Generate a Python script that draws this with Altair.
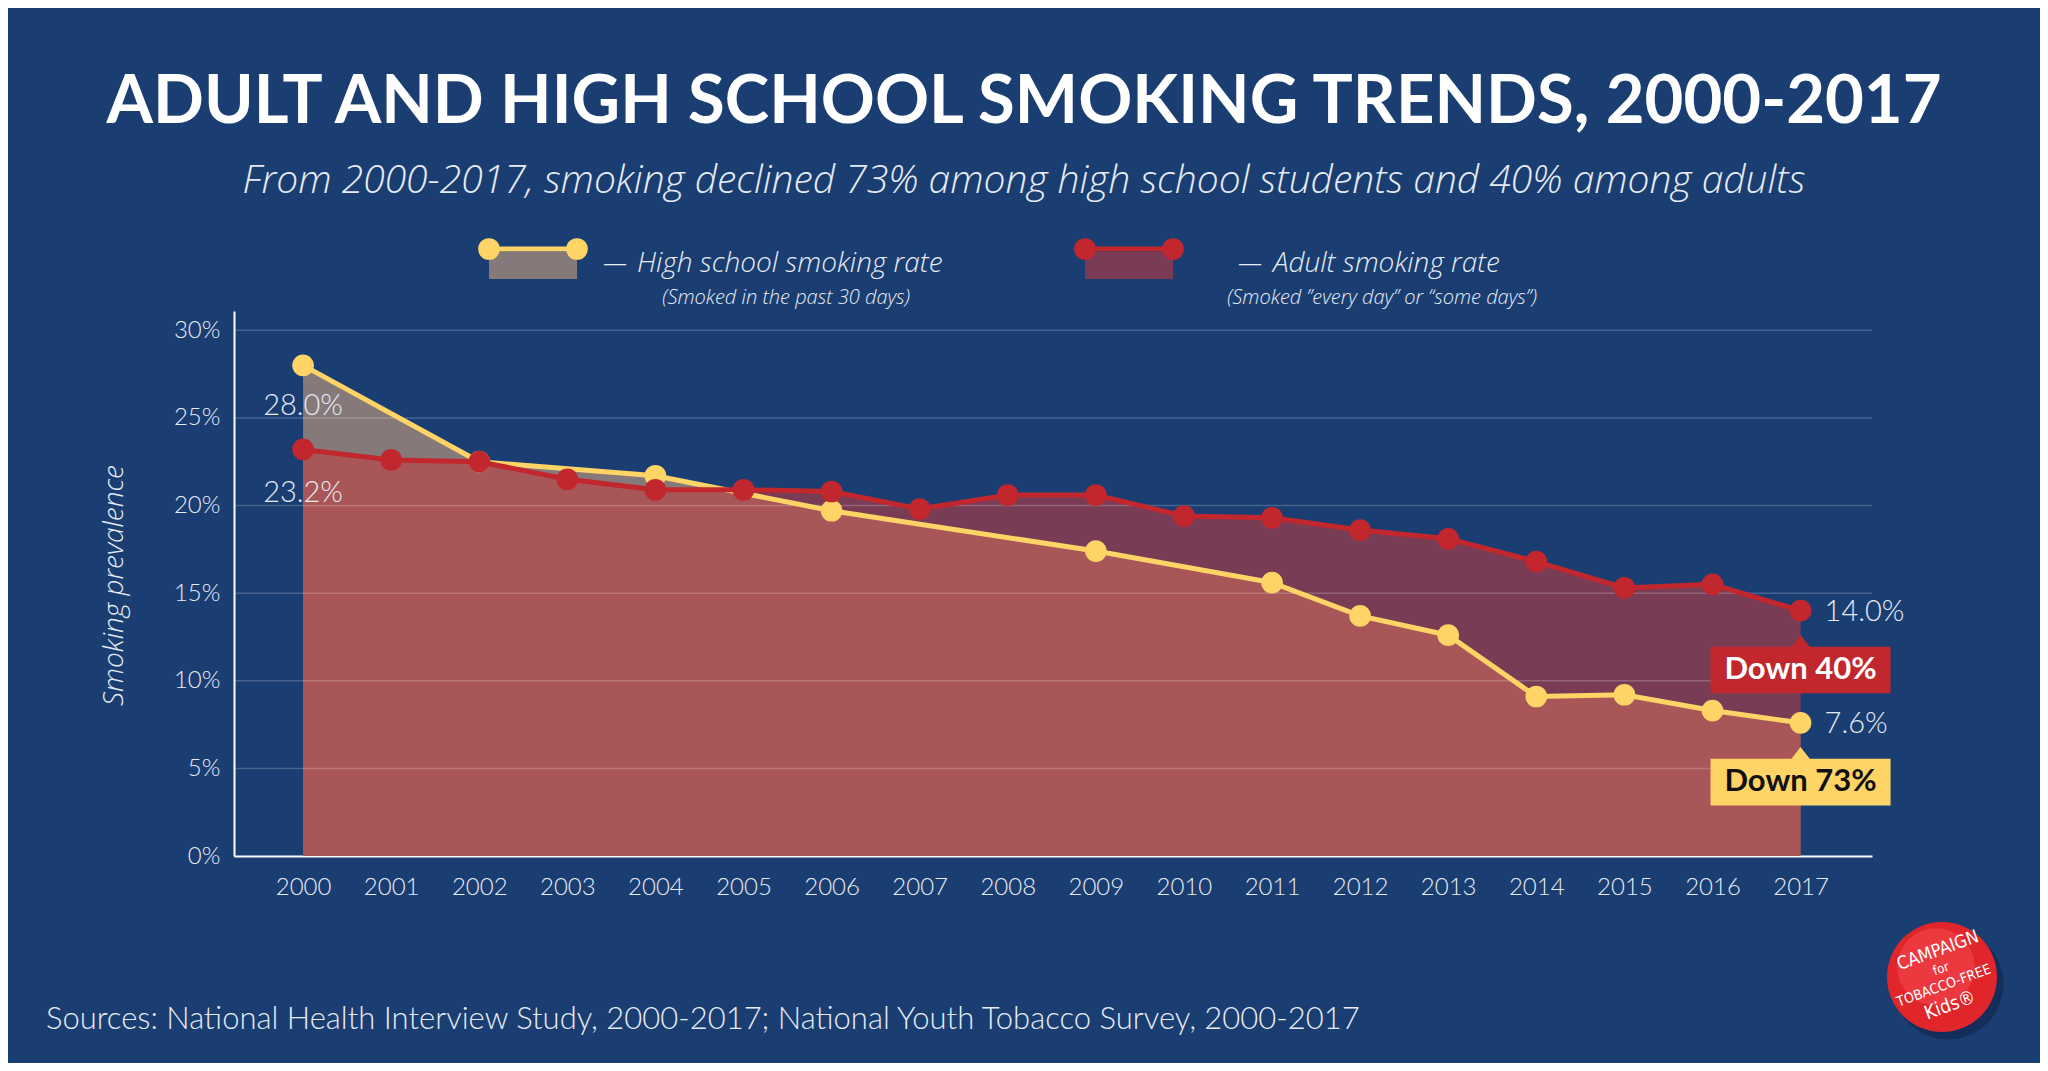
import altair as alt
import pandas as pd

# ---------------- data ----------------
years = [2000, 2001, 2002, 2003, 2004, 2005, 2006, 2007, 2008,
         2009, 2010, 2011, 2012, 2013, 2014, 2015, 2016, 2017]
adult_rate = [23.2, 22.6, 22.5, 21.5, 20.9, 20.9, 20.8, 19.8, 20.6,
              20.6, 19.4, 19.3, 18.6, 18.1, 16.8, 15.3, 15.5, 14.0]
hs_years = [2000, 2002, 2004, 2006, 2009, 2011, 2012, 2013, 2014, 2015, 2016, 2017]
hs_rate = [28.0, 22.5, 21.7, 19.7, 17.4, 15.6, 13.7, 12.6, 9.1, 9.2, 8.3, 7.6]
y_ticks = [0, 5, 10, 15, 20, 25, 30]
grid_vals = [5, 10, 15, 20, 25, 30]
down_labels = ["Down 40%", "Down 73%"]

title_text = "ADULT AND HIGH SCHOOL SMOKING TRENDS, 2000-2017"
subtitle_text = ("From 2000-2017, smoking declined 73% among high school "
                 "students and 40% among adults")
source_text = ("Sources: National Health Interview Study, 2000-2017; "
               "National Youth Tobacco Survey, 2000-2017")
legend_main = ["High school smoking rate", "Adult smoking rate"]
legend_sub = ["(Smoked in the past 30 days)",
              "(Smoked \u201devery day\u201d or \u201csome days\u201d)"]
logo_lines = ["CAMPAIGN", "for", "TOBACCO-FREE", "Kids\u00ae"]

# ---------------- styling ----------------
BG = "#1b3e72"
YELLOW = "#ffd466"
RED = "#c1272d"
HS_FILL = "#867979"
AD_FILL = "#c53a3e"
AD_LEGEND = "#7a3c55"
TXT = "#e6ebf3"
FONT = "Lato"
IFONT = "Open Sans"

W, H = 1638, 545

adult_df = pd.DataFrame({"year": years, "val": adult_rate})
hs_df = pd.DataFrame({"year": hs_years, "val": hs_rate})

x_enc = alt.X(
    "year:Q",
    scale=alt.Scale(domain=[1999.216, 2017.811], nice=False, zero=False),
    axis=alt.Axis(values=years, format="d", title=None, ticks=False, grid=False,
                  domainColor="white", domainWidth=2, labelFont=FONT,
                  labelFontWeight=300, labelFontSize=24, labelColor=TXT,
                  labelPadding=19, labelFlush=False, labelOverlap=False),
)
y_enc = alt.Y(
    "val:Q",
    scale=alt.Scale(domain=[0, 31.1], nice=False),
    axis=alt.Axis(values=y_ticks, labelExpr="datum.value + '%'",
                  title="Smoking prevalence", ticks=False, grid=False,
                  domainColor="white", domainWidth=2, labelFont=FONT,
                  labelFontWeight=300, labelFontSize=24, labelColor=TXT,
                  labelPadding=14, titleFont=IFONT, titleFontStyle="italic",
                  titleFontWeight=300, titleFontSize=28, titleColor=TXT,
                  titleX=-120, titleY=274, titleAlign="center",
                  titleBaseline="middle", titleAngle=270),
)

hs_area = alt.Chart(hs_df).mark_area(color=HS_FILL, opacity=1).encode(x=x_enc, y=y_enc)
ad_area = alt.Chart(adult_df).mark_area(color=AD_FILL, opacity=0.56).encode(x=x_enc, y=y_enc)

grid = alt.Chart(pd.DataFrame({"val": grid_vals})).mark_rule(
    color="white", opacity=0.2, strokeWidth=1.5).encode(y=y_enc)

hs_line = alt.Chart(hs_df).mark_line(color=YELLOW, strokeWidth=5).encode(x=x_enc, y=y_enc)
hs_pts = alt.Chart(hs_df).mark_point(filled=True, color=YELLOW, size=470,
                                     opacity=1).encode(x=x_enc, y=y_enc)
ad_line = alt.Chart(adult_df).mark_line(color=RED, strokeWidth=5).encode(x=x_enc, y=y_enc)
ad_pts = alt.Chart(adult_df).mark_point(filled=True, color=RED, size=470,
                                        opacity=1).encode(x=x_enc, y=y_enc)

# value labels at the ends
start_df = pd.DataFrame({"year": [years[0]], "val": [hs_rate[0]],
                         "t": [f"{hs_rate[0]:.1f}%"]})
start_ad_df = pd.DataFrame({"year": [years[0]], "val": [adult_rate[0]],
                            "t": [f"{adult_rate[0]:.1f}%"]})
end_df = pd.DataFrame({"year": [years[-1], hs_years[-1]],
                       "val": [adult_rate[-1], hs_rate[-1]],
                       "t": [f"{adult_rate[-1]:.1f}%", f"{hs_rate[-1]:.1f}%"]})

lab_kw = dict(font=FONT, fontWeight=300, fontSize=29, color=TXT, baseline="middle")
start_lab = alt.Chart(start_df).mark_text(align="center", dy=41, **lab_kw).encode(
    x=x_enc, y=y_enc, text="t:N")
start_ad_lab = alt.Chart(start_ad_df).mark_text(align="center", dy=44, **lab_kw).encode(
    x=x_enc, y=y_enc, text="t:N")
end_lab = alt.Chart(end_df).mark_text(align="left", dx=24, dy=1, **lab_kw).encode(
    x=x_enc, y=y_enc, text="t:N")

# "Down" call-out boxes anchored at the 2017 points
box_path = "M-1,0.4L-0.102,0.4L0,0.27L0.102,0.4L1,0.4L1,0.918L-1,0.918Z"
down_df = pd.DataFrame({"year": [years[-1], hs_years[-1]],
                        "val": [adult_rate[-1], hs_rate[-1]],
                        "t": down_labels,
                        "box": [RED, YELLOW],
                        "ink": ["white", "#111111"]})
boxes = alt.Chart(down_df).mark_point(shape=box_path, size=32400, filled=True,
                                      opacity=1, strokeWidth=0).encode(
    x=x_enc, y=y_enc, color=alt.Color("box:N", scale=None))
box_txt = alt.Chart(down_df).mark_text(font=FONT, fontWeight="bold", fontSize=31,
                                       baseline="middle", align="center", dy=59).encode(
    x=x_enc, y=y_enc, text="t:N", color=alt.Color("ink:N", scale=None))

# ---------------- titles, legend, footer (pixel placed) ----------------
def txt(s, x, y, size, align="left", weight="normal", style="normal",
        color=TXT, angle=0, font=FONT):
    return alt.Chart(pd.DataFrame({"t": [s]})).mark_text(
        font=font, fontSize=size, fontWeight=weight, fontStyle=style,
        color=color, align=align, baseline="middle", angle=angle).encode(
        x=alt.value(x), y=alt.value(y), text="t:N")

title = txt(title_text, 790, -208, 67, align="center", weight="bold", color="white")
subtitle = txt(subtitle_text, 790, -130, 39, align="center", weight=300,
               style="italic", font=IFONT)
source = txt(source_text, -188, 709, 31, weight=300)

leg_layers = []
for lx, fill, col, main, sub, dash_x, main_x, sub_x in [
    (255, HS_FILL, YELLOW, legend_main[0], legend_sub[0], 369, 403, 552),
    (851, AD_LEGEND, RED, legend_main[1], legend_sub[1], 1004, 1039, 1148),
]:
    leg_layers.append(alt.Chart(pd.DataFrame({"a": [0]})).mark_rect(color=fill).encode(
        x=alt.value(lx), x2=alt.value(lx + 88), y=alt.value(-59), y2=alt.value(-32)))
    leg_layers.append(alt.Chart(pd.DataFrame({"a": [0]})).mark_rule(
        color=col, strokeWidth=5).encode(
        x=alt.value(lx), x2=alt.value(lx + 88), y=alt.value(-62)))
    leg_layers.append(alt.Chart(pd.DataFrame({"px": [lx, lx + 88], "py": [-62, -62]}))
                      .mark_point(filled=True, color=col, size=470, opacity=1).encode(
        x=alt.X("px:Q", scale=None), y=alt.Y("py:Q", scale=None)))
    leg_layers.append(txt("\u2014", dash_x, -47, 24, weight=300, font=IFONT))
    leg_layers.append(txt(main, main_x, -47, 28, weight=300, style="italic", font=IFONT))
    leg_layers.append(txt(sub, sub_x, -13, 20, align="center", weight=300,
                          style="italic", font=IFONT))

# logo
logo_shadow = alt.Chart(pd.DataFrame({"a": [0]})).mark_point(
    filled=True, shape="circle", size=12300, color="#0c2148", opacity=0.55).encode(
    x=alt.value(1714), y=alt.value(673))
logo_disc = alt.Chart(pd.DataFrame({"a": [0]})).mark_point(
    filled=True, shape="circle", size=12100, color="#e0252b", opacity=1).encode(
    x=alt.value(1708), y=alt.value(666))
logo_glow = alt.Chart(pd.DataFrame({"a": [0]})).mark_point(
    filled=True, shape="circle", size=6000, color="#f2484c", opacity=0.6).encode(
    x=alt.value(1702), y=alt.value(656))
logo_txt = [
    txt(logo_lines[0], 1704, 640, 18, align="center", color="white", angle=340,
        font="DejaVu Sans Condensed"),
    txt(logo_lines[1], 1707, 658, 13, align="center", color="white", angle=340,
        font="DejaVu Sans Condensed"),
    txt(logo_lines[2], 1710, 675, 14, align="center", color="white", angle=340,
        font="DejaVu Sans Condensed"),
    txt(logo_lines[3], 1716, 694, 19, align="center", color="white", angle=340,
        font="DejaVu Sans Condensed"),
]

chart = alt.layer(
    hs_area, ad_area, grid, hs_line, hs_pts, ad_line, ad_pts,
    start_lab, start_ad_lab, end_lab, boxes, box_txt,
    title, subtitle, source, *leg_layers,
    logo_shadow, logo_disc, logo_glow, *logo_txt,
).properties(
    width=W, height=H,
    autosize=alt.AutoSizeParams(type="none"),
    padding={"left": 226, "top": 303, "right": 168, "bottom": 207},
    background=BG,
).configure_view(stroke=None)

chart.save("out.html", embed_options={"renderer": "svg", "actions": False})
